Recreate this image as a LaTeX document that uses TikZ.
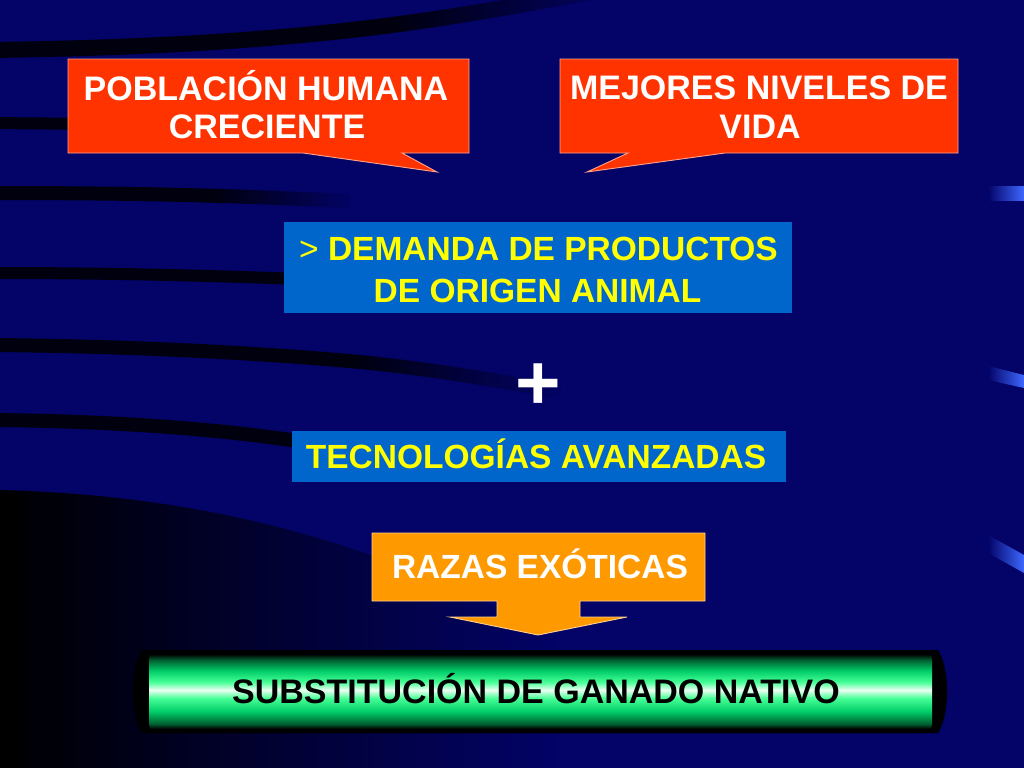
\documentclass[tikz,border=0pt]{standalone}
\usepackage{fontspec}
\usetikzlibrary{fadings}
\setmainfont{Liberation Sans}
\definecolor{bg}{RGB}{3,3,104}
\definecolor{calred}{RGB}{255,51,0}
\definecolor{boxblue}{RGB}{0,102,204}
\definecolor{boxorange}{RGB}{255,153,0}
\definecolor{txtyellow}{RGB}{255,255,0}
\definecolor{streak}{RGB}{62,104,255}
\definecolor{gA}{RGB}{0,95,48}
\definecolor{gB}{RGB}{0,205,105}
\definecolor{gC}{RGB}{70,255,150}
\definecolor{gW}{RGB}{235,255,242}
\pgfdeclareverticalshading{greenbar}{100bp}{color(0bp)=(black); color(25bp)=(black); color(27.5bp)=(black); color(30.5bp)=(gA); color(38bp)=(gB); color(46bp)=(gC); color(50.9bp)=(gW); color(55.7bp)=(gC); color(62.5bp)=(gB); color(69bp)=(gA); color(72.5bp)=(black); color(100bp)=(black)}
\begin{document}
\begin{tikzpicture}[x=1pt,y=-1pt,
  every node/.style={inner sep=0pt, outer sep=0pt},
  solidband/.style={draw=black, opacity=0.85},
  band/.style={draw=black, opacity=0.85, path fading=east},
  calloutshape/.style={fill=calred, draw=white!55!calred, line width=0.9pt, line join=miter},
  bluebox/.style={fill=boxblue, draw=none},
  wtext/.style={text=white, font=\fontsize{34}{38}\selectfont\bfseries, anchor=base},
  ytext/.style={text=txtyellow, font=\fontsize{33.5}{40}\selectfont\bfseries, anchor=base},
  gtext/.style={text=black, font=\fontsize{34}{40}\selectfont\bfseries, anchor=base},
  streakshape/.style={left color=bg, right color=streak}
]
\useasboundingbox (0,0) rectangle (1024,768);
\fill[bg] (0,0) rectangle (1024,768);

% background dark bands
\draw[solidband, line width=16] (-10,50) .. controls (150,48) and (280,40) .. (400,24);
\draw[band, line width=16] (400,24) .. controls (480,13) and (550,0) .. (620,-14);
\draw[solidband, line width=12] (-10,123) -- (100,124);
\draw[solidband, line width=14] (-10,193) .. controls (80,193) and (160,194) .. (220,196);
\draw[band, line width=14] (220,196) .. controls (260,197) and (300,199) .. (350,201);
\draw[solidband, line width=12] (-10,273) .. controls (120,273) and (220,276) .. (300,279);
\draw[solidband, line width=14] (-10,345) .. controls (120,346) and (250,352) .. (360,362);
\draw[band, line width=14] (360,362) .. controls (420,368) and (480,377) .. (560,392);
\draw[solidband, line width=14] (-10,420) .. controls (120,421) and (230,430) .. (310,443);
\fill[black, opacity=1, path fading=east] (0,490) .. controls (180,495) and (360,530) .. (560,640) -- (560,768) -- (0,768) -- cycle;

% right streaks
\shade[streakshape] (988,186) rectangle (1024,200);
\shade[streakshape] (988,366) -- (1024,375) -- (1024,388) -- (988,380) -- cycle;
\shade[streakshape] (988,535) -- (1024,555) -- (1024,573) -- (988,553) -- cycle;

% callout 1
\filldraw[calloutshape] (68,59) -- (469,59) -- (469,153) -- (402,153) -- (437,172) -- (303,153) -- (68,153) -- cycle;
\node[wtext] (pob1) at (266,100) {POBLACIÓN HUMANA};
\node[wtext] (pob2) at (267,138) {CRECIENTE};

% callout 2
\filldraw[calloutshape] (560,59) -- (958,59) -- (958,153) -- (725,153) -- (587,172) -- (628,153) -- (560,153) -- cycle;
\node[wtext] (mej1) at (759,99) {MEJORES NIVELES DE};
\node[wtext] (mej2) at (760,138) {VIDA};

% demanda box
\node[bluebox, minimum width=508pt, minimum height=91pt] (dem) at (538,267.5) {};
\node[ytext] (dem1) at (538.5,260) {{\mdseries>} DEMANDA DE PRODUCTOS};
\node[ytext] (dem2) at (537.5,302) {DE ORIGEN ANIMAL};

% plus
\node[text=white, font=\fontsize{78}{80}\selectfont\bfseries, anchor=base] (plus) at (538,409) {+};

% tecnologias box
\node[bluebox, minimum width=494pt, minimum height=51pt] (tec) at (538.5,456.5) {};
\node[ytext] (tec1) at (536,468) {TECNOLOGÍAS AVANZADAS};

% razas arrow box
\filldraw[fill=boxorange, draw=white!55!boxorange, line width=0.9pt] (372,533) -- (705,533) -- (705,601) -- (580,601) -- (580,617) -- (627,617) -- (538,635) -- (450,617) -- (497,617) -- (497,601) -- (372,601) -- cycle;
\node[wtext, font=\fontsize{33.5}{40}\selectfont\bfseries] (raz) at (540,578) {RAZAS EXÓTICAS};

% green bar
\fill[black] (142,650) .. controls (130,668) and (130,715) .. (142,733) -- (938,733) .. controls (950,715) and (950,668) .. (938,650) -- cycle;
\shade[shading=greenbar, rounded corners=9pt] (149,650) rectangle (932,733);
\node[gtext] (sub) at (536,703) {SUBSTITUCIÓN DE GANADO NATIVO};
\end{tikzpicture}
\end{document}
